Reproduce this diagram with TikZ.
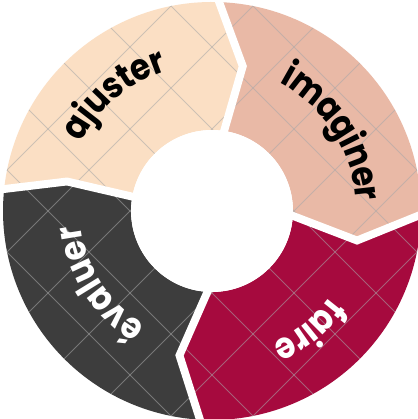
\documentclass[tikz,border=0pt]{standalone}
\usepackage{fontspec}
\newfontfamily\cyclefont{Poppins}[FakeStretch=0.88]
\usetikzlibrary{decorations.text}

\definecolor{ajusterbg}{HTML}{FBDFC4}
\definecolor{imaginerbg}{HTML}{E9B9A6}
\definecolor{fairebg}{HTML}{A60A3E}
\definecolor{evaluerbg}{HTML}{3D3D3D}
\definecolor{gridgray}{HTML}{A8A8A8}

\begin{document}
\begin{tikzpicture}[x=0.25mm, y=0.25mm,
    gridline/.style={gridgray, line width=0.6pt, opacity=0.55},
    whitegap/.style={white, line width=5.6pt, line join=miter},
    cycle text/.style 2 args={decorate, decoration={text along path, text align=center, raise=#1, text={#2}}}]

\fill[white] (-212,-208) rectangle (205,211);
\useasboundingbox (-212,-208) rectangle (205,211);

\fill[ajusterbg] (174.5:209) arc[start angle=174.5, end angle=89, radius=209] -- (78:148) -- (82:81)
    arc[start angle=82, end angle=170, radius=81] -- (168.5:148) -- cycle;
\fill[imaginerbg] (89:209) arc[start angle=89, end angle=0, radius=209] -- (-11.5:148) -- (-2:81)
    arc[start angle=-2, end angle=82, radius=81] -- (78:148) -- cycle;
\fill[fairebg] (0:209) arc[start angle=0, end angle=-92.4, radius=209] -- (-102.7:148) -- (-91.5:81)
    arc[start angle=-91.5, end angle=-2, radius=81] -- (-11.5:148) -- cycle;
\fill[evaluerbg] (-92.4:209) arc[start angle=-92.4, end angle=-185.5, radius=209] -- (168.5:148) -- (170:81)
    arc[start angle=-190, end angle=-91.5, radius=81] -- (-102.7:148) -- cycle;

\begin{scope}
  \clip (0,0) circle[radius=209];
  \foreach \k in {-5,...,5} {
    \draw[gridline] ({82*\k-260},260) -- ({82*\k+260},-260);
    \draw[gridline] ({82*\k-260},-260) -- ({82*\k+260},260);
  }
\end{scope}
\fill[white] (0,0) circle[radius=81];

\draw[whitegap] (89:218) -- (78:148) -- (82:75);
\draw[whitegap] (0:218) -- (-11.5:148) -- (-2:75);
\draw[whitegap] (-92.4:218) -- (-102.7:148) -- (-91.5:75);
\draw[whitegap] (174.5:218) -- (168.5:148) -- (170:75);

\path[cycle text={-1.1mm}{|\cyclefont\bfseries\fontsize{26pt}{26pt}\selectfont|ajuster}]
    (180:152) arc[start angle=180, end angle=80, radius=152];
\path[cycle text={-1.1mm}{|\cyclefont\bfseries\fontsize{26pt}{26pt}\selectfont|imaginer}]
    (83:149) arc[start angle=83, end angle=-17, radius=149];
\path[cycle text={-1.1mm}{|\color{white}\cyclefont\bfseries\fontsize{26pt}{26pt}\selectfont|faire}]
    (-1:150) arc[start angle=-1, end angle=-101, radius=150];
\path[cycle text={-1mm}{|\color{white}\cyclefont\bfseries\fontsize{26pt}{26pt}\selectfont|évaluer}]
    (-97:136) arc[start angle=-97, end angle=-197, radius=136];
\end{tikzpicture}
\end{document}
